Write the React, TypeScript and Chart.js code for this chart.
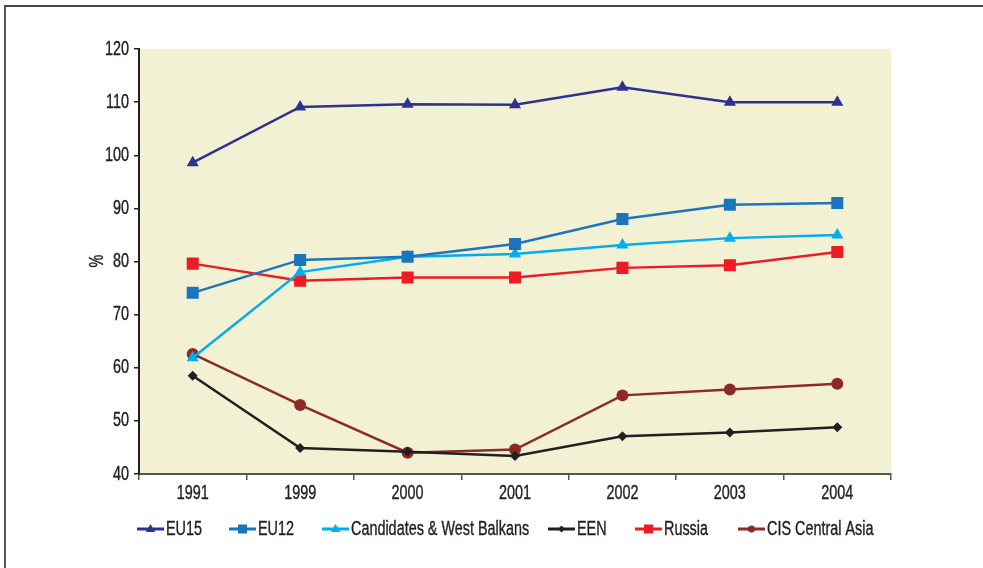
import React, { useEffect, useRef } from "react";
import { Chart, registerables } from "chart.js";

Chart.register(...registerables);

const categories = ["1991", "1999", "2000", "2001", "2002", "2003", "2004"];
const eu15 = [98.6, 109.1, 109.6, 109.5, 112.8, 110.0, 110.0];
const eu12 = [74.1, 80.3, 80.9, 83.3, 88.0, 90.7, 91.0];
const candidates = [61.9, 78.0, 80.9, 81.4, 83.1, 84.4, 85.0];
const een = [58.5, 44.9, 44.2, 43.4, 47.1, 47.8, 48.8];
const russia = [79.6, 76.4, 77.0, 77.0, 78.8, 79.3, 81.8];
const cis = [62.6, 53.0, 44.0, 44.6, 54.8, 55.9, 57.0];

const seriesNames = ["EU15", "EU12", "Candidates & West Balkans", "EEN", "Russia", "CIS Central Asia"];
const seriesColors = ["#2e3192", "#1c75bc", "#00aeef", "#231f20", "#ed1c24", "#8e2a25"];
const seriesStyles = ["triangle", "rect", "triangle", "rectRot", "rect", "circle"];
const seriesRadius = [7, 8.5, 7, 5, 8.5, 6];
const yTitle = "%";

const FONT = "'Liberation Sans', Arial, sans-serif";
const FONT_SIZE = 20;
const SQUEEZE = 0.72;
const TEXT_COLOR = "#231f20";
const legendStarts = [137, 229, 322, 548, 635, 738];

function drawMarker(ctx: CanvasRenderingContext2D, style: string, x: number, y: number, r: number) {
  ctx.beginPath();
  if (style === "triangle") {
    ctx.moveTo(x, y - r);
    ctx.lineTo(x + r * 0.95, y + r * 0.6);
    ctx.lineTo(x - r * 0.95, y + r * 0.6);
    ctx.closePath();
  } else if (style === "rect") {
    ctx.rect(x - r, y - r, 2 * r, 2 * r);
  } else if (style === "rectRot") {
    ctx.moveTo(x, y - r);
    ctx.lineTo(x + r, y);
    ctx.lineTo(x, y + r);
    ctx.lineTo(x - r, y);
    ctx.closePath();
  } else {
    ctx.arc(x, y, r, 0, Math.PI * 2);
  }
  ctx.fill();
}

function drawText(ctx: CanvasRenderingContext2D, text: string, x: number, y: number, align: CanvasTextAlign, rot = 0) {
  ctx.save();
  ctx.translate(x, y);
  if (rot) ctx.rotate(rot);
  ctx.scale(SQUEEZE, 1);
  ctx.fillStyle = TEXT_COLOR;
  ctx.strokeStyle = TEXT_COLOR;
  ctx.lineWidth = 0.4;
  ctx.font = `${FONT_SIZE}px ${FONT}`;
  ctx.textAlign = align;
  ctx.textBaseline = "middle";
  ctx.fillText(text, 0, 0);
  ctx.strokeText(text, 0, 0);
  ctx.restore();
}

const bgPlugin = {
  id: "bgPlugin",
  beforeDraw(chart: any) {
    const { ctx, chartArea } = chart;
    ctx.save();
    ctx.fillStyle = "#f3f1d4";
    ctx.fillRect(chartArea.left, chartArea.top, chartArea.right - chartArea.left, chartArea.bottom - chartArea.top);
    ctx.restore();
  },
  afterDraw(chart: any) {
    const { ctx, scales, chartArea } = chart;
    const ys = scales.y;
    ys.ticks.forEach((t: any, i: number) => {
      drawText(ctx, String(t.value), chartArea.left - 10, ys.getPixelForTick(i), "right");
    });
    const xs = scales.x;
    (chart.data.labels as string[]).forEach((lab, i) => {
      drawText(ctx, lab, xs.getPixelForTick(i), chartArea.bottom + 19, "center");
    });
    drawText(ctx, yTitle, 97, 261, "center", -Math.PI / 2);

    ctx.save();
    const ly = 529;
    seriesNames.forEach((name, i) => {
      const x0 = legendStarts[i];
      const col = seriesColors[i];
      ctx.strokeStyle = col;
      ctx.fillStyle = col;
      ctx.lineWidth = 3;
      ctx.beginPath();
      ctx.moveTo(x0, ly);
      ctx.lineTo(x0 + 27, ly);
      ctx.stroke();
      const lr = seriesStyles[i] === "rect" ? 4.5 : seriesStyles[i] === "triangle" ? 5 : 3.5;
      drawMarker(ctx, seriesStyles[i], x0 + 13.5, ly, lr);
      drawText(ctx, name, x0 + 29, ly, "left");
    });
    ctx.restore();
  },
};

export default function App() {
  const ref = useRef<HTMLCanvasElement | null>(null);
  useEffect(() => {
    if (!ref.current) return;
    const all = [eu15, eu12, candidates, een, russia, cis];
    const chart = new Chart(ref.current, {
      type: "line",
      data: {
        labels: categories,
        datasets: all.map((d, i) => ({
          label: seriesNames[i],
          data: d,
          borderColor: seriesColors[i],
          backgroundColor: seriesColors[i],
          pointBackgroundColor: seriesColors[i],
          pointBorderColor: seriesColors[i],
          pointBorderWidth: 0,
          pointStyle: seriesStyles[i] as any,
          pointRadius: seriesRadius[i],
          borderWidth: 2.5,
          tension: 0,
          fill: false,
        })),
      },
      options: {
        responsive: false,
        animation: false,
        layout: { padding: { left: 0, right: 92, top: 49, bottom: 0 } },
        plugins: { legend: { display: false }, tooltip: { enabled: false } },
        scales: {
          x: {
            offset: true,
            grid: { offset: true, drawOnChartArea: false, drawTicks: true, tickLength: 6, color: "#555", lineWidth: 1.5 },
            border: { display: true, color: "#555", width: 2 },
            ticks: { color: "rgba(0,0,0,0)", font: { family: FONT, size: 18 }, padding: 3, maxRotation: 0 },
            afterFit: (s: any) => { s.height = 94; },
          },
          y: {
            min: 40,
            max: 120,
            ticks: { stepSize: 10, color: "rgba(0,0,0,0)", font: { family: FONT, size: 18 }, padding: 5 },
            grid: { drawOnChartArea: false, drawTicks: true, tickLength: 5, color: "#231f20", lineWidth: 1.5 },
            border: { display: true, color: "#231f20", width: 2 },
            afterFit: (s: any) => { s.width = 139; },
          },
        },
      },
      plugins: [bgPlugin],
    });
    return () => chart.destroy();
  }, []);
  return (
    <div style={{ position: "fixed", left: 0, top: 0, width: 983, height: 568, background: "#fff" }}>
      <div style={{ position: "absolute", left: 4, top: 5, width: 1000, height: 600, borderTop: "2px solid #444", borderLeft: "2px solid #555" }} />
      <canvas ref={ref} width={983} height={568} style={{ position: "absolute", left: 0, top: 0 }} />
    </div>
  );
}
